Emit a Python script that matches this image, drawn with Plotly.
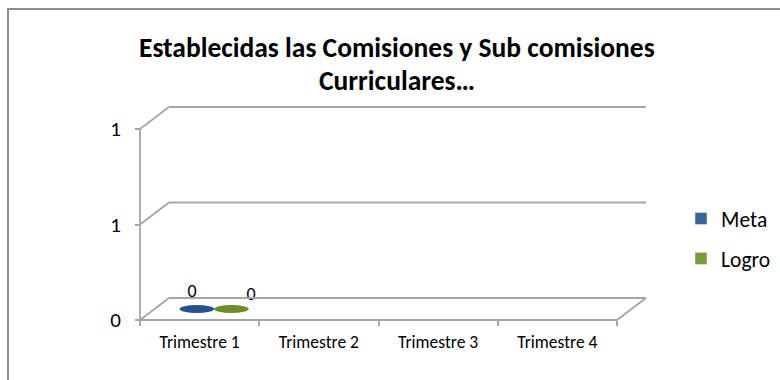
import plotly.graph_objects as go

# ---- data -------------------------------------------------------------
categories = ["Trimestre 1", "Trimestre 2", "Trimestre 3", "Trimestre 4"]
meta = [0, None, None, None]
logro = [0, None, None, None]
y_ticks = [0, 0.5, 1]

title_lines = ["Establecidas las Comisiones y Sub comisiones", "Curriculares…"]

# ---- page / projection geometry (pixels) -------------------------------
W, H = 780, 380
X0_PX, X1_PX = 140, 617      # front edge of the floor
Y0_PX, Y1_PX = 320, 129      # value 0 and value 1 on the front axis
DX_PX, DY_PX = 29, 22        # depth offset of the back wall
PAD = 6

n = len(categories)
ux = (X1_PX - X0_PX) / n
uy = (Y0_PX - Y1_PX) / (max(y_ticks) - min(y_ticks))
DX = DX_PX / ux
DY = DY_PX / uy

x_lo, x_hi = -0.5, n - 0.5
xr = [x_lo - PAD / ux, x_hi + DX + PAD / ux]
yr = [-PAD / uy, max(y_ticks) + DY + PAD / uy]
left_px = X0_PX - PAD
right_px = X0_PX + n * ux + DX_PX + PAD
bottom_px = Y0_PX + PAD
top_px = Y1_PX - DY_PX - PAD
x_dom = [left_px / W, right_px / W]
y_dom = [(H - bottom_px) / H, (H - top_px) / H]

FONT = "Carlito, Calibri, Lato, sans-serif"
GRID = "#a6a6a6"
# name, values, legend colour, column colour, column offset, label dx, label dy
series = [
    ("Meta", meta, "#3b6599", "#27508c", -0.145, -0.04, 0.145),
    ("Logro", logro, "#7a9a3e", "#6d8c2c", 0.145, 0.165, 0.13),
]
BAR_W = 0.29
ELL_H = 8 / uy

fig = go.Figure()
shapes = []

# back wall gridlines with their perspective connectors
for v in y_ticks:
    shapes.append(dict(type="line", xref="x", yref="y", x0=x_lo, y0=v,
                       x1=x_lo + DX, y1=v + DY, line=dict(color=GRID, width=1.8)))
    shapes.append(dict(type="line", xref="x", yref="y", x0=x_lo + DX, y0=v + DY,
                       x1=x_hi + DX, y1=v + DY, line=dict(color=GRID, width=1.8)))
# front value axis and floor edges
shapes.append(dict(type="line", xref="x", yref="y", x0=x_lo, y0=0, x1=x_lo,
                   y1=max(y_ticks), line=dict(color=GRID, width=1.8)))
shapes.append(dict(type="line", xref="x", yref="y", x0=x_lo, y0=0, x1=x_hi,
                   y1=0, line=dict(color=GRID, width=1.8)))
shapes.append(dict(type="line", xref="x", yref="y", x0=x_hi, y0=0, x1=x_hi + DX,
                   y1=DY, line=dict(color=GRID, width=1.8)))

# outer chart frame
shapes.append(dict(type="rect", xref="paper", yref="paper", x0=8 / W, y0=-0.2,
                   x1=1.2, y1=1 - 9 / H, line=dict(color="#8e8e8e", width=2),
                   fillcolor="rgba(0,0,0,0)", layer="below"))

for name, vals, leg_col, col, off, lab_dx, lab_dy in series:
    # legend entry (flat columns in the plane)
    fig.add_trace(go.Bar(x=categories, y=vals, name=name, marker=dict(color=leg_col),
                         legendgroup=name, hoverinfo="skip"))
    lx, ly, lt = [], [], []
    for i, v in enumerate(vals):
        if v is None:
            continue
        cx = i + off + DX / 2
        base = DY / 2
        top = base + v
        if v > 0:
            shapes.append(dict(type="rect", xref="x", yref="y", x0=cx - BAR_W / 2,
                               x1=cx + BAR_W / 2, y0=base, y1=top,
                               fillcolor=col, line=dict(width=0)))
        shapes.append(dict(type="circle", xref="x", yref="y", x0=cx - BAR_W / 2,
                           x1=cx + BAR_W / 2, y0=top - ELL_H / 2, y1=top + ELL_H / 2,
                           fillcolor=col, line=dict(width=0)))
        lx.append(cx + lab_dx)
        ly.append(v + lab_dy)
        lt.append(f"{v:g}")
    # data labels on a linear overlay that shares the category axis geometry
    fig.add_trace(go.Scatter(x=lx, y=ly, text=lt, mode="text", showlegend=False,
                             xaxis="x2", yaxis="y",
                             textfont=dict(family=FONT, size=18, color="#000"),
                             hoverinfo="skip", cliponaxis=False))

# chart title, one annotation per line
title_ann = [dict(text="<b>" + line + "</b>", x=397 / W, y=1 - yc / H,
                  xref="paper", yref="paper", xanchor="center", yanchor="middle",
                  showarrow=False, font=dict(family=FONT, size=27.5, color="#000"))
             for line, yc in zip(title_lines, [48, 80])]

fig.update_layout(
    width=W, height=H,
    margin=dict(l=0, r=0, t=0, b=0, autoexpand=False),
    paper_bgcolor="white", plot_bgcolor="rgba(0,0,0,0)",
    barmode="group",
    shapes=shapes,
    showlegend=True,
    legend=dict(x=(701 - 20) / W, xanchor="left", y=1 - 198 / H, yanchor="top",
                font=dict(family=FONT, size=21.5, color="#000"),
                traceorder="grouped", tracegroupgap=9, bgcolor="rgba(0,0,0,0)"),
    annotations=title_ann,
    xaxis=dict(type="category", categoryorder="array", categoryarray=categories,
               range=xr, domain=x_dom, anchor="free",
               position=(H - Y0_PX) / H, showline=False, showgrid=False,
               zeroline=False, tickson="boundaries", ticks="outside", ticklen=5,
               tickcolor=GRID, tickwidth=1.8, ticklabelstandoff=9,
               tickfont=dict(family=FONT, size=17.5, color="#000")),
    xaxis2=dict(range=xr, domain=x_dom, overlaying="x", anchor="y", visible=False),
    yaxis=dict(range=yr, domain=y_dom,
               anchor="free", position=X0_PX / W, tickvals=y_ticks, tickformat=".0f",
               showline=False, showgrid=False, zeroline=False, ticks="outside",
               ticklen=5, tickcolor=GRID, tickwidth=1.8, ticklabelstandoff=10,
               tickfont=dict(family=FONT, size=21, color="#000")),
)

fig.write_html("out.html")
